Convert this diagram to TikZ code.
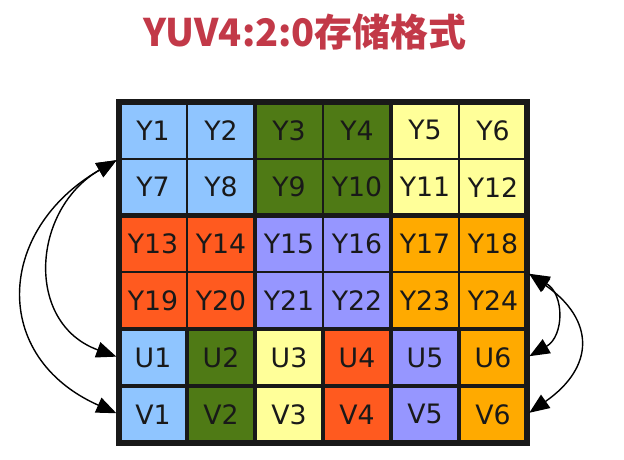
\documentclass[tikz,border=0pt]{standalone}
\usepackage{fontspec}
\newfontfamily\dejavu{DejaVu Sans}
\newfontfamily\cjk{Noto Sans CJK SC}
\usetikzlibrary{arrows.meta}

\definecolor{lblue}{HTML}{8FC5FF}
\definecolor{dgreen}{HTML}{4F7A15}
\definecolor{lyellow}{HTML}{FFFF99}
\definecolor{rorange}{HTML}{FF5A1F}
\definecolor{lpurple}{HTML}{9696FF}
\definecolor{orange}{HTML}{FFAA00}
\definecolor{titlered}{RGB}{194,57,72}

\tikzset{
  cell/.style={draw=black!90, line width=1.4pt, minimum width=1.7cm, minimum height=1.42cm,
    inner sep=0pt, outer sep=0pt, text=black!90, font=\dejavu\fontsize{19}{22}\selectfont},
  group/.style={draw=black!90, line width=3.2pt},
  outer/.style={draw=black!90, line width=4pt},
  link/.style={<->, line width=1pt, shorten <=2pt, shorten >=2pt}
}

\begin{document}
\begin{tikzpicture}[>={Triangle[length=5mm, width=4mm]}]
    \useasboundingbox (0,0) rectangle (15.6,11.5);

    %% 标题
    \node[text=titlered, font=\cjk\bfseries\fontsize{27}{32}\selectfont] (title) at (7.625,10.7) {YUV4:2:0存储格式};

    \begin{scope}[shift={(2.975,8.95)}]
      %% Y 分量
      \foreach \r/\colA/\colB/\colC in {0/lblue/dgreen/lyellow, 1/lblue/dgreen/lyellow,
                                        2/rorange/lpurple/orange, 3/rorange/lpurple/orange} {
        \foreach \c/\colX in {0/\colA, 1/\colA, 2/\colB, 3/\colB, 4/\colC, 5/\colC} {
          \pgfmathtruncatemacro\n{6*\r+\c+1}
          \node[cell, fill=\colX] (Y\n) at (1.7*\c+0.85, -1.42*\r-0.71) {Y\n};
        }
      }

      %% U, V 分量
      \foreach \c/\colX in {0/lblue, 1/dgreen, 2/lyellow, 3/rorange, 4/lpurple, 5/orange} {
        \pgfmathtruncatemacro\n{\c+1}
        \node[cell, fill=\colX] (U\n) at (1.7*\c+0.85, -1.42*4-0.71) {U\n};
        \node[cell, fill=\colX] (V\n) at (1.7*\c+0.85, -1.42*5-0.71) {V\n};
      }
    \end{scope}

    %% 粗边框
    \foreach \a/\b in {Y1/Y8, Y3/Y10, Y5/Y12, Y13/Y20, Y15/Y22, Y17/Y24}
      \draw[group] (\a.north west) rectangle (\b.south east);
    \foreach \n in {1,...,6} {
      \draw[group] (U\n.north west) rectangle (U\n.south east);
      \draw[group] (V\n.north west) rectangle (V\n.south east);
    }
    \draw[outer] (Y1.north west) rectangle (V6.south east);

    %% 对应关系
    \draw[link] (Y7.north west) to[out=210, in=160, looseness=1.3] (U1.west);
    \draw[link] (Y7.north west) to[out=210, in=156, looseness=1.42] (V1.west);
    \draw[link] (Y24.north east) to[out=-30, in=30, looseness=1.3] (U6.east);
    \draw[link] (Y24.north east) to[out=-35, in=35, looseness=1.5] (V6.east);

  \end{tikzpicture}
\end{document}
